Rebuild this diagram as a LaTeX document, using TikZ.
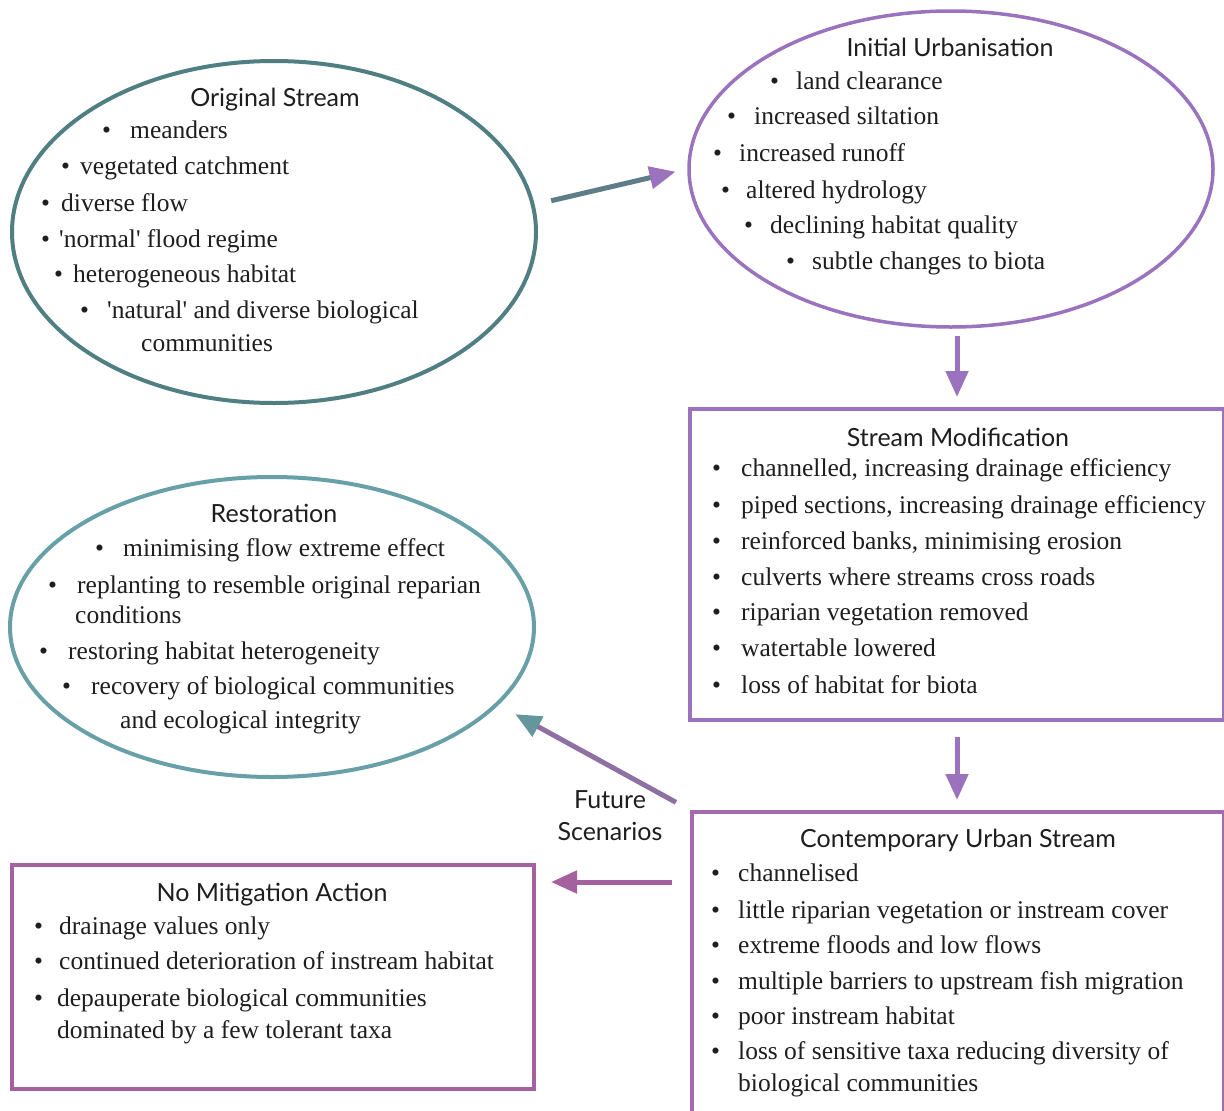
\documentclass[tikz,border=0pt]{standalone}
\usepackage{fontspec}
\setmainfont{Liberation Serif}
\newfontfamily\bodyfont{Liberation Serif}
\newfontfamily\headfont{Lato}
\usetikzlibrary{shapes.geometric,arrows.meta}

\definecolor{tealdark}{HTML}{4F7F82}
\definecolor{teallight}{HTML}{67A0A7}
\definecolor{lilac}{HTML}{9A72BD}
\definecolor{mauve}{HTML}{A46AAE}
\definecolor{plum}{HTML}{A4609F}
\definecolor{slate}{HTML}{5E7D88}
\definecolor{ink}{HTML}{1E1E1E}

\newcommand{\bul}[1]{\makebox[#1pt][l]{\textbullet}}

\tikzset{
	stage/.style={draw, ellipse, line width=4pt, inner sep=0pt},
	panel/.style={draw, line width=4pt, inner sep=0pt, anchor=north west},
	head/.style={font=\headfont\fontsize{25}{32}\selectfont, anchor=base, text=ink},
	item/.style={font=\bodyfont\fontsize{25.5}{30}\selectfont, anchor=base west, inner sep=0pt, text=ink},
	flow/.style={line width=5pt, -{Triangle[length=26pt,width=22pt]}},
}

\begin{document}
\begin{tikzpicture}[x=1pt, y=-1pt]
			%%%%% FRAME %%%%%
			\useasboundingbox (0,0) rectangle (1224,1111);
			
			%%%%% SHAPES %%%%%
			\node[stage, tealdark, minimum width=524pt, minimum height=342pt] (orig) at (274,232) {};
			\node[stage, lilac, line width=3.5pt, minimum width=524pt, minimum height=316pt] (init) at (951,169) {};
			\node[panel, lilac, minimum width=534pt, minimum height=311pt] (modif) at (688,407) {};
			\node[panel, mauve, minimum width=532pt, minimum height=320pt] (contemp) at (690,810) {};
			\node[panel, plum, minimum width=522pt, minimum height=224pt] (nomit) at (10,863) {};
			\node[stage, teallight, minimum width=524pt, minimum height=300pt] (restor) at (272,627) {};
			
			%%%%% ARROWS %%%%%
			\draw[flow, slate, -{Triangle[length=26pt,width=22pt,color=lilac]}, shorten <=17pt, shorten >=12pt] (orig.6) -- (init.west);
			\draw[flow, lilac, shorten <=7pt, shorten >=10pt] (init.south -| modif.north) -- (modif.north);
			\draw[flow, lilac, shorten <=15pt, shorten >=10pt] (modif.south) -- (modif.south |- contemp.north);
			\draw[flow, plum, shorten <=18pt, shorten >=15pt] ([yshift=-72pt]contemp.north west) -- ([yshift=-19pt]nomit.north east);
			\draw[flow, mauve!70!slate, -{Triangle[length=26pt,width=22pt,color=teallight!70!slate]}, shorten <=16pt, shorten >=19pt] (contemp.north west) -- (restor.-19);
			
			\node[head, anchor=center, align=center] (future) at (610,816) {Future\\Scenarios};
			
			%%%%% ORIGINAL STREAM %%%%%
			\node[head] (origt) at (275,106) {Original Stream};
			\node[item] (orig1) at (102,138) {\bul{28}meanders};
			\node[item] (orig2) at (61,174) {\bul{19}vegetated catchment};
			\node[item] (orig3) at (41,211) {\bul{20}diverse flow};
			\node[item] (orig4) at (41,247) {\bul{18}\textquotesingle normal\textquotesingle{} flood regime};
			\node[item] (orig5) at (54,282) {\bul{19}heterogeneous habitat};
			\node[item] (orig6) at (80,318) {\bul{27}\textquotesingle natural\textquotesingle{} and diverse biological};
			\node[item] (orig7) at (141,351) {communities};
			
			%%%%% INITIAL URBANISATION %%%%%
			\node[head] (initt) at (950,56) {Initial Urbanisation};
			\node[item] (init1) at (770,89) {\bul{26}land clearance};
			\node[item] (init2) at (727,124) {\bul{27}increased siltation};
			\node[item] (init3) at (713,161) {\bul{26}increased runoff};
			\node[item] (init4) at (721,198) {\bul{25}altered hydrology};
			\node[item] (init5) at (744,233) {\bul{26}declining habitat quality};
			\node[item] (init6) at (786,269) {\bul{26}subtle changes to biota};
			
			%%%%% STREAM MODIFICATION %%%%%
			\node[head] (modift) at (958,446) {Stream Modification};
			\node[item] (modif1) at (712,476) {\bul{29}channelled, increasing drainage efficiency};
			\node[item] (modif2) at (712,513) {\bul{29}piped sections, increasing drainage efficiency};
			\node[item] (modif3) at (712,549) {\bul{29}reinforced banks, minimising erosion};
			\node[item] (modif4) at (712,585) {\bul{29}culverts where streams cross roads};
			\node[item] (modif5) at (712,620) {\bul{29}riparian vegetation removed};
			\node[item] (modif6) at (712,656) {\bul{29}watertable lowered};
			\node[item] (modif7) at (712,693) {\bul{29}loss of habitat for biota};
			
			%%%%% RESTORATION %%%%%
			\node[head] (restort) at (274,522) {Restoration};
			\node[item] (restor1) at (95,556) {\bul{28}minimising flow extreme effect};
			\node[item] (restor2) at (48,593) {\bul{29}replanting to resemble original reparian};
			\node[item] (restor3) at (75,623) {conditions};
			\node[item] (restor4) at (39,659) {\bul{29}restoring habitat heterogeneity};
			\node[item] (restor5) at (62,694) {\bul{29}recovery of biological communities};
			\node[item] (restor6) at (120,728) {and ecological integrity};
			
			%%%%% CONTEMPORARY URBAN STREAM %%%%%
			\node[head] (contempt) at (958,847) {Contemporary Urban Stream};
			\node[item] (contemp1) at (711,881) {\bul{27}channelised};
			\node[item] (contemp2) at (711,918) {\bul{27}little riparian vegetation or instream cover};
			\node[item] (contemp3) at (711,953) {\bul{27}extreme floods and low flows};
			\node[item] (contemp4) at (711,989) {\bul{27}multiple barriers to upstream fish migration};
			\node[item] (contemp5) at (711,1024) {\bul{27}poor instream habitat};
			\node[item] (contemp6) at (711,1059) {\bul{27}loss of sensitive taxa reducing diversity of};
			\node[item] (contemp7) at (738,1091) {biological communities};
			
			%%%%% NO MITIGATION ACTION %%%%%
			\node[head] (nomitt) at (272,901) {No Mitigation Action};
			\node[item] (nomit1) at (34,934) {\bul{25}drainage values only};
			\node[item] (nomit2) at (34,969) {\bul{25}continued deterioration of instream habitat};
			\node[item] (nomit3) at (34,1006) {\bul{23}depauperate biological communities};
			\node[item] (nomit4) at (57,1038) {dominated by a few tolerant taxa};
			
			%%%%% END %%%%%
\end{tikzpicture}
\end{document}
